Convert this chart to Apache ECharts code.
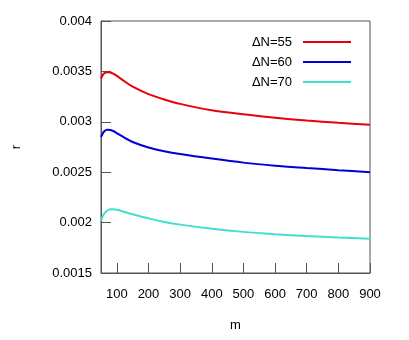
<!DOCTYPE html>
<html>
<head>
<meta charset="utf-8">
<script src="https://cdn.jsdelivr.net/npm/echarts@6/dist/echarts.min.js"></script>
<style>
html,body{margin:0;padding:0;background:#fff;}
#chart{width:409px;height:340px;}
</style>
</head>
<body>
<div id="chart"></div>
<script>
const mValues = [50, 55, 60, 70, 80, 90, 100, 125, 150, 200, 250, 300, 400, 500, 600, 700, 800, 900];
const r55 = [0.00343, 0.00346, 0.00348, 0.003492, 0.00349, 0.003476, 0.003456, 0.0034, 0.003348, 0.003275, 0.003222, 0.003178, 0.003115, 0.003075, 0.00304, 0.003012, 0.00299, 0.00297];
const r60 = [0.00285, 0.00288, 0.002905, 0.00292, 0.002918, 0.002906, 0.002888, 0.00284, 0.0028, 0.002745, 0.002708, 0.00268, 0.002635, 0.002595, 0.002565, 0.002542, 0.00252, 0.0025];
const r70 = [0.00202, 0.00206, 0.00209, 0.00212, 0.002132, 0.002133, 0.002127, 0.002105, 0.002083, 0.002042, 0.002007, 0.00198, 0.00194, 0.001908, 0.001885, 0.001866, 0.001852, 0.00184];
const seriesNames = ['ΔN=55', 'ΔN=60', 'ΔN=70'];
const xTicks = [100, 200, 300, 400, 500, 600, 700, 800, 900];
const yTicks = [0.0015, 0.002, 0.0025, 0.003, 0.0035, 0.004];

const colors = ['#e8000b', '#0000d8', '#40e0d0'];
const pairs = arr => mValues.map((m, i) => [m, arr[i]]);
const allSeries = [r55, r60, r70];

const axisColor = '#555';
const font = 'Liberation Sans, Arial, Helvetica, sans-serif';

const chart = echarts.init(document.getElementById('chart'), null, {renderer: 'canvas'});
chart.setOption({
  animation: false,
  backgroundColor: '#fff',
  color: colors,
  grid: {left: 101, right: 39, top: 21, bottom: 67, show: true, borderColor: axisColor, borderWidth: 1, backgroundColor: 'transparent'},
  legend: {
    orient: 'vertical',
    right: 53,
    top: 30,
    align: 'right',
    icon: 'rect',
    itemWidth: 48,
    itemHeight: 2,
    itemGap: 6,
    textStyle: {fontFamily: font, fontSize: 13, color: '#000', lineHeight: 14, padding: [0, 6, 0, 0]},
    data: seriesNames
  },
  xAxis: {
    type: 'value',
    min: 50,
    max: 900,
    name: 'm',
    nameLocation: 'middle',
    nameGap: 46,
    nameTextStyle: {fontFamily: font, fontSize: 13, color: '#000'},
    axisLine: {show: true, onZero: false, lineStyle: {color: axisColor, width: 1}},
    axisTick: {show: true, inside: true, length: 10, lineStyle: {color: axisColor}, customValues: xTicks},
    axisLabel: {fontFamily: font, fontSize: 13, color: '#000', margin: 15, customValues: xTicks},
    splitLine: {show: false}
  },
  yAxis: {
    type: 'value',
    min: 0.0015,
    max: 0.004,
    name: 'r',
    nameLocation: 'middle',
    nameGap: 78,
    nameTextStyle: {fontFamily: font, fontSize: 13, color: '#000'},
    axisLine: {show: true, onZero: false, lineStyle: {color: axisColor, width: 1}},
    axisTick: {show: true, inside: true, length: 10, lineStyle: {color: axisColor}, customValues: yTicks},
    axisLabel: {fontFamily: font, fontSize: 13, color: '#000', margin: 9, customValues: yTicks,
      formatter: v => String(+(+v).toFixed(4))},
    splitLine: {show: false}
  },
  series: allSeries.map((arr, i) => ({
    name: seriesNames[i],
    type: 'line',
    data: pairs(arr),
    showSymbol: false,
    symbol: 'none',
    smooth: 0.3,
    lineStyle: {width: 2, color: colors[i]},
    itemStyle: {color: colors[i]}
  }))
});
</script>
</body>
</html>
